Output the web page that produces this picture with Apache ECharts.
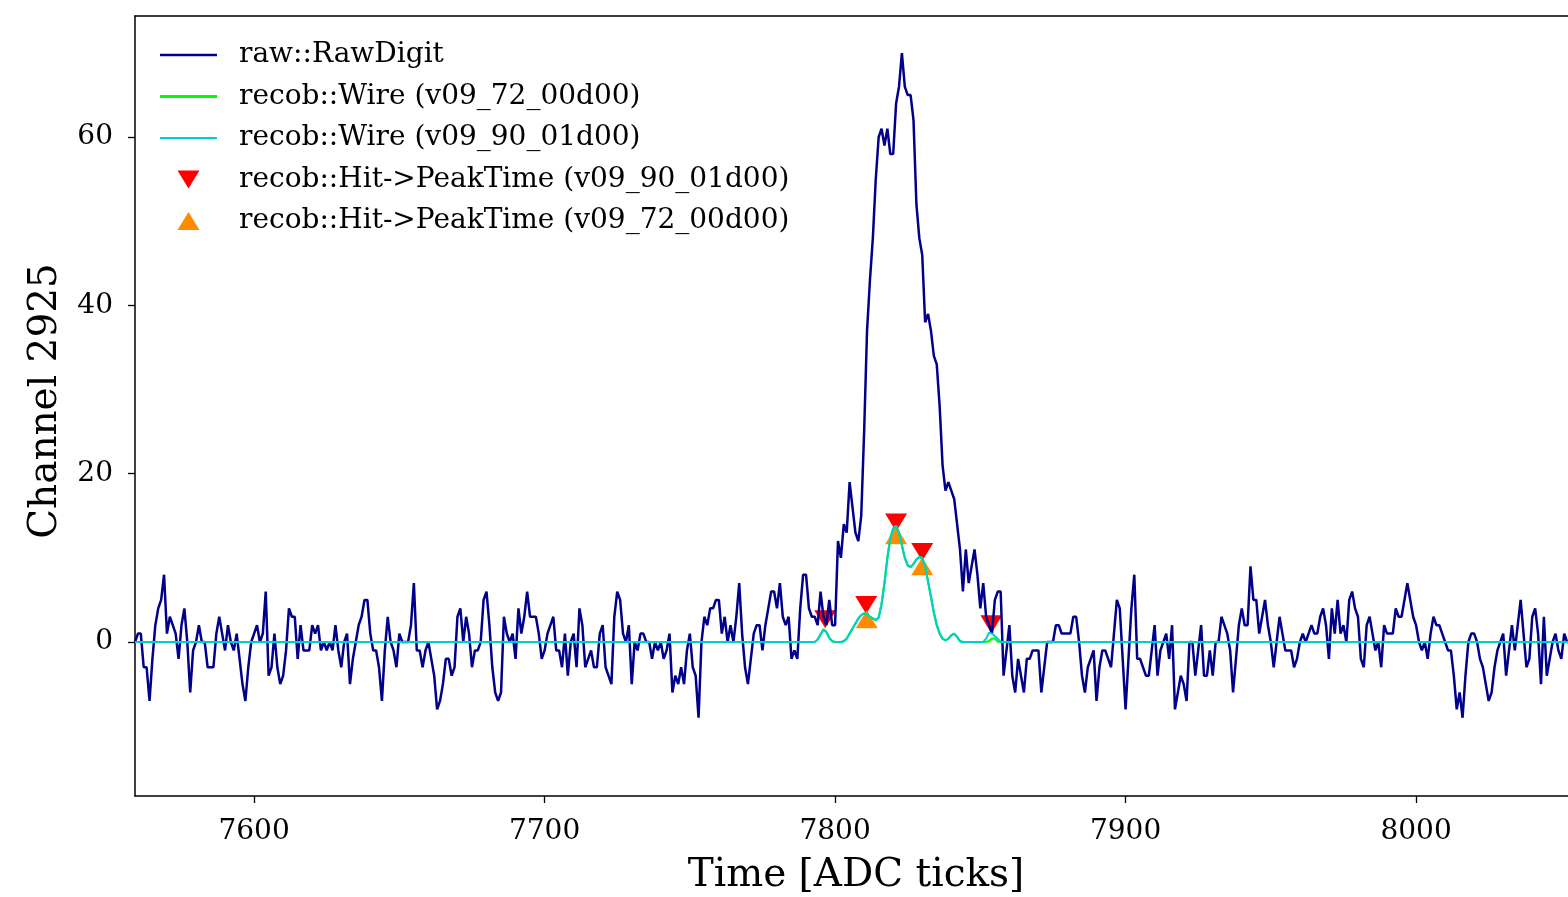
<!DOCTYPE html>
<html><head><meta charset="utf-8">
<script src="https://cdn.jsdelivr.net/npm/echarts@6/dist/echarts.min.js"></script>
<style>html,body{margin:0;padding:0;background:#fff;overflow:hidden}#c{width:1568px;height:897px}</style>
</head><body><div id="c"></div>
<script>
// ---- data ----
const rawStart = 7559; // first ADC tick of rawValues
const rawValues = [
  0, 1, 1, -3, -3, -7, -2, 2, 4, 5,
  8, 1, 3, 2, 1, -2, 2, 4, 0, -6,
  -1, 0, 2, 0, 0, -3, -3, -3, 1, 3,
  1, -1, 2, 0, -1, 1, -2, -5, -7, -3,
  0, 1, 2, 0, 1, 6, -4, -3, 1, -3,
  -5, -4, -1, 4, 3, 3, -2, 2, -1, -1,
  -1, 2, 1, 2, -1, 0, -1, 0, -1, 2,
  -1, -3, 0, 1, -5, -2, 0, 2, 3, 5,
  5, 1, -1, -1, -3, -7, -1, 3, 0, -1,
  -3, 1, 0, 0, 0, 2, 7, -1, -1, -3,
  -1, 0, -2, -4, -8, -7, -5, -2, -2, -4,
  -3, 3, 4, 0, 3, 1, -3, -1, -1, 0,
  5, 6, 2, -3, -6, -7, -6, 3, 1, 0,
  1, -2, 4, 1, 3, 6, 3, 3, 3, 1,
  -2, -1, 1, 2, 3, -1, -1, -3, 1, -4,
  0, 1, -3, 4, 2, -3, -2, -1, -3, -3,
  1, 2, -3, -4, -5, 3, 6, 5, 1, 0,
  2, -5, 0, -1, 1, 1, 0, 0, -2, 0,
  -1, 0, -2, -1, 1, -6, -4, -5, -3, -5,
  -1, 1, -3, -4, -9, 0, 3, 2, 4, 4,
  5, 5, 1, 3, 0, 2, 0, 3, 7, 1,
  -3, -5, -2, 1, 2, 2, -1, 2, 4, 6,
  6, 4, 7, 3, 2, 3, -2, -1, -2, 4,
  8, 8, 4, 3, 3, 2, 6, 3, 2, 5,
  2, 2, 12, 10, 14, 13, 19, 16, 13, 12,
  15, 25, 37, 43, 48, 55, 60, 61, 59, 61,
  58, 58, 64, 66, 70, 66, 65, 65, 62, 52,
  48, 46, 38, 39, 37, 34, 33, 28, 21, 18,
  19, 18, 17, 14, 11, 6, 11, 7, 9, 11,
  8, 4, 7, 3, 2, 1, 5, 6, 6, -4,
  -1, 2, -4, -6, -2, -4, -6, -2, -2, -1,
  -1, -1, -6, -3, 0, 0, 0, 2, 2, 1,
  1, 1, 1, 3, 3, 0, -4, -6, -3, -2,
  -1, -7, -3, -1, -1, -2, -3, 1, 5, 4,
  -2, -8, -2, 4, 8, -2, -2, -3, -4, -4,
  -1, 2, -4, -1, 0, 1, -2, 2, -8, -6,
  -4, -5, -7, 0, 0, -4, -1, 2, -4, -4,
  -1, -4, 0, 0, 3, 2, 1, -1, -6, -2,
  2, 4, 2, 2, 9, 5, 5, 1, 3, 5,
  2, 0, -3, 0, 3, 1, -1, -1, -1, -3,
  -2, 0, 1, 0, 1, 2, 1, 1, 3, 4,
  2, -2, 4, 1, 5, 1, 2, 0, 5, 6,
  4, 3, -2, -3, 2, 3, 1, -1, 0, -3,
  2, 1, 1, 1, 4, 3, 3, 5, 7, 5,
  3, 2, 0, -1, 0, -2, 1, 3, 2, 2,
  1, 0, -1, -1, -4, -8, -6, -9, -4, 0,
  1, 1, 0, -2, -3, -5, -7, -6, -3, -1,
  0, 1, -4, -1, 2, -1, 2, 5, 1, -3,
  -2, 3, 4, 1, -5, 3, -4, -2, 0, 1,
  -1, -2, 1, 0, 0
];

// recob::Wire: zero everywhere except the region of interest below
const wireRangeStart = 7559;
const wireRangeEnd = 8056;
const wireStart = 7790; // first tick of the ROI arrays
const wire0972 = [
  0, 0, 0, 0, 0.3, 0.9, 1.5, 1.2, 0.5, 0.1,
  0, 0, 0, 0.1, 0.4, 1.0, 1.6, 2.2, 2.8, 3.2,
  3.4, 3.3, 3.0, 2.8, 2.6, 2.9, 4.5, 7.0, 10.0, 12.3,
  13.5, 13.8, 13.0, 11.5, 10.0, 9.1, 8.9, 9.3, 9.8, 10.1,
  10.0, 9.0, 7.2, 5.4, 3.5, 2.0, 1.0, 0.4, 0.2, 0.4,
  0.8, 1.0, 0.6, 0.1, 0, 0, 0, 0, 0, 0,
  0, 0, 0, 0.1, 0.4, 0.4, 0.05, 0, 0, 0, 0
];
const wire0990 = [
  0, 0, 0, 0, 0.3, 0.9, 1.5, 1.2, 0.5, 0.1,
  0, 0, 0, 0.1, 0.4, 1.0, 1.6, 2.2, 2.8, 3.2,
  3.4, 3.3, 3.0, 2.8, 2.6, 2.9, 4.5, 7.0, 10.0, 12.3,
  13.5, 13.8, 13.0, 11.5, 10.0, 9.1, 8.9, 9.3, 9.8, 10.1,
  10.0, 9.0, 7.2, 5.4, 3.5, 2.0, 1.0, 0.4, 0.2, 0.4,
  0.8, 1.0, 0.6, 0.1, 0, 0, 0, 0, 0, 0,
  0, 0, 0.4, 1.1, 1.0, 0.7, 0.4, 0.05, 0, 0, 0
];

// recob::Hit -> PeakTime
const hitTime0990 = [7796.6, 7810.7, 7821.0, 7830.0, 7853.8];
const hitAmp0990  = [2.7, 4.4, 14.2, 10.7, 2.1];
const hitTime0972 = [7810.9, 7821.0, 7830.0];
const hitAmp0972  = [2.7, 12.7, 9.0];

const xTicks = [7600, 7700, 7800, 7900, 8000];
const yTicks = [0, 20, 40, 60];

const names = [
  'raw::RawDigit',
  'recob::Wire (v09_72_00d00)',
  'recob::Wire (v09_90_01d00)',
  'recob::Hit->PeakTime (v09_90_01d00)',
  'recob::Hit->PeakTime (v09_72_00d00)'
];

// ---- build series data ----
const rawData = rawValues.map((v, i) => [rawStart + i, v]);
function wireData(arr) {
  const d = [[wireRangeStart, 0]];
  arr.forEach((v, i) => d.push([wireStart + i, v]));
  d.push([wireRangeEnd, 0]);
  return d;
}
const hit90 = hitTime0990.map((t, i) => [t, hitAmp0990[i]]);
const hit72 = hitTime0972.map((t, i) => [t, hitAmp0972[i]]);

const FONT = '"DejaVu Serif", serif';
const TRI_DOWN = 'path://M0,0L22,0L11,18Z';
const TRI_UP = 'path://M11,0L22,18L0,18Z';
const LINE_RAW = 'path://M0,0L57,0L57,2.4L0,2.4Z';
const LINE_W72 = 'path://M0,0L57,0L57,2.8L0,2.8Z';
const LINE_W90 = 'path://M0,0L57,0L57,1.8L0,1.8Z';
const C_RAW = '#00008b', C_W72 = '#00ff00', C_W90 = '#00ced1', C_H90 = '#ff0000', C_H72 = '#ff8c00';
const noComma = v => String(v);

const chart = echarts.init(document.getElementById('c'), null, {renderer: 'canvas'});
chart.setOption({
  animation: false,
  backgroundColor: '#ffffff',
  grid: {left: 135, top: 16, width: 1442, height: 780, containLabel: false, outerBoundsMode: 'none'},
  legend: {
    orient: 'vertical', left: 160, top: 41, padding: 0,
    itemWidth: 57, itemHeight: 18, itemGap: 13.5, symbolKeepAspect: true,
    textStyle: {fontFamily: FONT, fontSize: 28, color: '#000', lineHeight: 28, padding: [0, 0, 0, 17]},
    data: [
      {name: names[0], icon: LINE_RAW},
      {name: names[1], icon: LINE_W72},
      {name: names[2], icon: LINE_W90},
      {name: names[3], icon: TRI_DOWN},
      {name: names[4], icon: TRI_UP}
    ],
    selectedMode: false
  },
  xAxis: [{
    type: 'value', min: 7559, max: 8055.4,
    name: 'Time [ADC ticks]', nameLocation: 'middle', nameGap: 60,
    nameTextStyle: {fontFamily: FONT, fontSize: 39, color: '#000'},
    axisLine: {show: true, onZero: false, lineStyle: {color: '#000', width: 1.5}},
    axisTick: {show: true, inside: false, length: 7, customValues: xTicks, lineStyle: {color: '#000', width: 1.3}},
    axisLabel: {customValues: xTicks, formatter: noComma, fontFamily: FONT, fontSize: 28, color: '#000', margin: 22},
    splitLine: {show: false}
  }, {
    type: 'value', position: 'top', min: 7559, max: 8055.4,
    axisLine: {show: true, onZero: false, lineStyle: {color: '#000', width: 1.5}},
    axisTick: {show: false}, axisLabel: {show: false}, splitLine: {show: false}
  }],
  yAxis: {
    type: 'value', min: -18.3, max: 74.4,
    name: 'Channel 2925', nameLocation: 'middle', nameGap: 70,
    nameTextStyle: {fontFamily: FONT, fontSize: 39, color: '#000', padding: [0, 0, 0, 10]},
    axisLine: {show: true, onZero: false, lineStyle: {color: '#000', width: 1.5}},
    axisTick: {show: true, inside: false, length: 7, customValues: yTicks, lineStyle: {color: '#000', width: 1.3}},
    axisLabel: {customValues: yTicks, formatter: noComma, fontFamily: FONT, fontSize: 28, color: '#000', margin: 22},
    splitLine: {show: false}
  },
  series: [
    {name: names[0], type: 'line', data: rawData, showSymbol: false, symbol: 'none',
     lineStyle: {color: C_RAW, width: 2.5}, itemStyle: {color: C_RAW}, clip: true},
    {name: names[3], type: 'scatter', data: hit90, symbol: TRI_DOWN, symbolSize: [22, 18],
     itemStyle: {color: C_H90, opacity: 1}},
    {name: names[4], type: 'scatter', data: hit72, symbol: TRI_UP, symbolSize: [22, 18],
     itemStyle: {color: C_H72, opacity: 1}},
    {name: names[1], type: 'line', data: wireData(wire0972), showSymbol: false, symbol: 'none',
     lineStyle: {color: C_W72, width: 2.2}, itemStyle: {color: C_W72}, clip: true},
    {name: names[2], type: 'line', data: wireData(wire0990), showSymbol: false, symbol: 'none',
     lineStyle: {color: C_W90, width: 2}, itemStyle: {color: C_W90}, clip: true}
  ]
});
</script>
</body></html>
